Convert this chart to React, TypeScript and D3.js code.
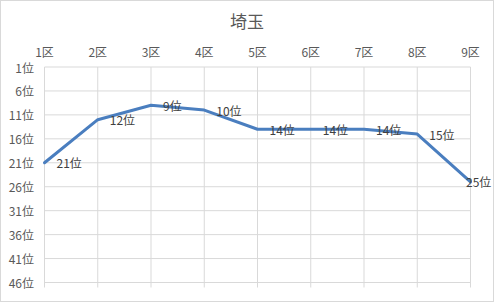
import React from "react";
import * as d3 from "d3";

const categories = ["1区", "2区", "3区", "4区", "5区", "6区", "7区", "8区", "9区"];
const ranks = [21, 12, 9, 10, 14, 14, 14, 15, 25];
const yTicks = [1, 6, 11, 16, 21, 26, 31, 36, 41, 46];
const title = "埼玉";

const W = 495;
const H = 303;
const FONT = "'Noto Sans CJK JP', 'Noto Sans', sans-serif";

export default function App() {
  const left = 44.5, right = 470.5, top = 67, bottom = 282.5;
  const x = d3.scalePoint<string>().domain(categories).range([left, right]);
  const y = d3.scaleLinear().domain([1, 46]).range([top, bottom]);
  const line = d3
    .line<number>()
    .x((_, i) => x(categories[i]) as number)
    .y((d) => y(d));

  return (
    <svg
      width={W}
      height={H}
      style={{ position: "absolute", left: 0, top: 0, background: "#fff" }}
      fontFamily={FONT}
    >
      <rect x={0.5} y={0.5} width={493} height={301} fill="#fff" stroke="#d9d9d9" />
      <text x={247} y={28} textAnchor="middle" fontSize={17} fill="#595959">
        {title}
      </text>
      {yTicks.map((t) => (
        <line key={"h" + t} x1={left} x2={right} y1={y(t)} y2={y(t)} stroke="#d9d9d9" />
      ))}
      {categories.map((c) => (
        <line
          key={"v" + c}
          x1={x(c)}
          x2={x(c)}
          y1={top}
          y2={bottom + 5}
          stroke="#d9d9d9"
        />
      ))}
      {categories.map((c) => (
        <text
          key={"c" + c}
          x={x(c)}
          y={51}
          textAnchor="middle"
          dominantBaseline="central"
          fontSize={12}
          fill="#595959"
        >
          {c}
        </text>
      ))}
      {yTicks.map((t) => (
        <text
          key={"yl" + t}
          x={34}
          y={y(t)}
          textAnchor="end"
          dominantBaseline="central"
          fontSize={12}
          fill="#595959"
        >
          {t + "位"}
        </text>
      ))}
      <path
        d={line(ranks) as string}
        fill="none"
        stroke="#4a7ebf"
        strokeWidth={3}
        strokeLinejoin="round"
        strokeLinecap="round"
      />
      {ranks.map((r, i) => {
        const px = x(categories[i]) as number;
        const label = r + "位";
        const lx = Math.min(px + 12, 466);
        return (
          <text
            key={"d" + i}
            x={lx}
            y={y(r)}
            dominantBaseline="central"
            fontSize={12}
            fill="#404040"
          >
            {label}
          </text>
        );
      })}
    </svg>
  );
}
